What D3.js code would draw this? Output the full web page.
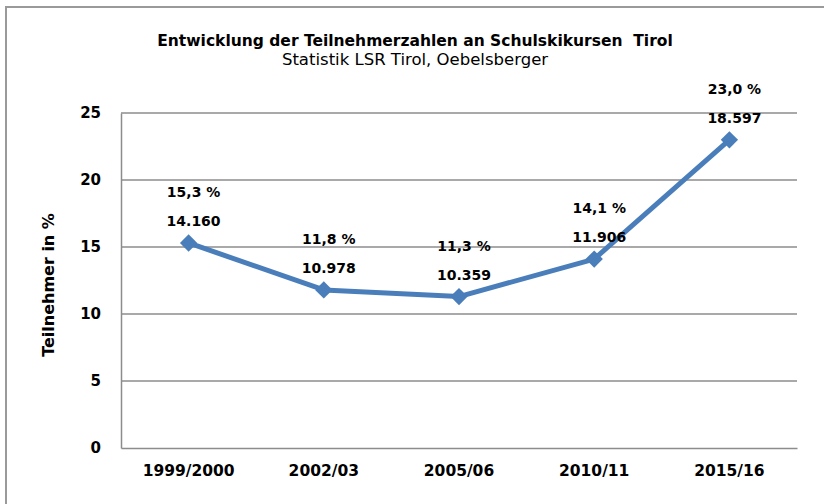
<!DOCTYPE html>
<html>
<head>
<meta charset="utf-8">
<script src="https://cdn.jsdelivr.net/npm/d3@7"></script>
<style>
  body { margin: 0; background: #fff; }
  text { font-family: "DejaVu Sans", sans-serif; fill: #000; }
</style>
</head>
<body>
<div id="chart"></div>
<script>
const categories = ["1999/2000", "2002/03", "2005/06", "2010/11", "2015/16"];
const percentValues = [15.3, 11.8, 11.3, 14.1, 23.0];
const percentLabels = ["15,3 %", "11,8 %", "11,3 %", "14,1 %", "23,0 %"];
const countLabels = ["14.160", "10.978", "10.359", "11.906", "18.597"];
const yTicks = [0, 5, 10, 15, 20, 25];

const width = 824;
const height = 504;
const margin = { top: 113, right: 27, bottom: 56, left: 121 };

const svg = d3
  .select("#chart")
  .append("svg")
  .attr("width", width)
  .attr("height", height);

// outer frame, runs off the right and bottom edge
svg
  .append("rect")
  .attr("x", 6)
  .attr("y", 7)
  .attr("width", width)
  .attr("height", height)
  .attr("fill", "none")
  .attr("stroke", "#9a9a9a")
  .attr("stroke-width", 2);

svg
  .append("text")
  .attr("x", 415)
  .attr("y", 46)
  .attr("text-anchor", "middle")
  .style("font-size", "15.5px")
  .style("font-weight", "bold")
  .style("white-space", "pre")
  .text("Entwicklung der Teilnehmerzahlen an Schulskikursen  Tirol");

svg
  .append("text")
  .attr("x", 415)
  .attr("y", 65)
  .attr("text-anchor", "middle")
  .style("font-size", "16.5px")
  .text("Statistik LSR Tirol, Oebelsberger");

const xScale = d3
  .scaleBand()
  .domain(categories)
  .range([margin.left, width - margin.right]);

const yScale = d3
  .scaleLinear()
  .domain([0, 25])
  .range([height - margin.bottom, margin.top]);

// gridlines
svg
  .append("g")
  .selectAll("line")
  .data(yTicks.filter((d) => d > 0))
  .join("line")
  .attr("x1", margin.left)
  .attr("x2", width - margin.right)
  .attr("y1", (d) => yScale(d))
  .attr("y2", (d) => yScale(d))
  .attr("stroke", "#8c8c8c")
  .attr("stroke-width", 1.5);

const yAxis = d3.axisLeft(yScale).tickValues(yTicks).tickSize(0).tickPadding(20);
const gy = svg
  .append("g")
  .attr("transform", "translate(" + margin.left + ",0)")
  .call(yAxis);
gy.select(".domain").attr("stroke", "#8c8c8c").attr("stroke-width", 1.5);
gy.selectAll("text")
  .style("font-family", "DejaVu Sans, sans-serif")
  .style("font-size", "15px")
  .style("font-weight", "bold");

const xAxis = d3.axisBottom(xScale).tickSize(0).tickPadding(17);
const gx = svg
  .append("g")
  .attr("transform", "translate(0," + (height - margin.bottom) + ")")
  .call(xAxis);
gx.select(".domain").attr("stroke", "#8c8c8c").attr("stroke-width", 1.5);
gx.selectAll("text")
  .style("font-family", "DejaVu Sans, sans-serif")
  .style("font-size", "15.5px")
  .style("font-weight", "bold");

svg
  .append("text")
  .attr("transform", "translate(54,285) rotate(-90)")
  .attr("text-anchor", "middle")
  .style("font-size", "16px")
  .style("font-weight", "bold")
  .text("Teilnehmer in %");

const cx = (i) => xScale(categories[i]) + xScale.bandwidth() / 2;

const line = d3
  .line()
  .x((d, i) => cx(i))
  .y((d) => yScale(d));

svg
  .append("path")
  .datum(percentValues)
  .attr("d", line)
  .attr("fill", "none")
  .attr("stroke", "#4a7ebb")
  .attr("stroke-width", 5)
  .attr("stroke-linejoin", "round");

svg
  .append("g")
  .selectAll("path")
  .data(percentValues)
  .join("path")
  .attr("d", d3.symbol(d3.symbolSquare, 150))
  .attr("transform", (d, i) => "translate(" + cx(i) + "," + yScale(d) + ") rotate(45)")
  .attr("fill", "#4a7ebb");

// data labels: share in % above, participant count below
const labels = svg.append("g").style("font-size", "14px").style("font-weight", "bold");
labels
  .selectAll("text.pct")
  .data(percentValues)
  .join("text")
  .attr("class", "pct")
  .attr("x", (d, i) => cx(i) + 5)
  .attr("y", (d) => yScale(d) - 46)
  .attr("text-anchor", "middle")
  .text((d, i) => percentLabels[i]);

labels
  .selectAll("text.cnt")
  .data(percentValues)
  .join("text")
  .attr("class", "cnt")
  .attr("x", (d, i) => cx(i) + 5)
  .attr("y", (d) => yScale(d) - 17)
  .attr("text-anchor", "middle")
  .text((d, i) => countLabels[i]);
</script>
</body>
</html>
